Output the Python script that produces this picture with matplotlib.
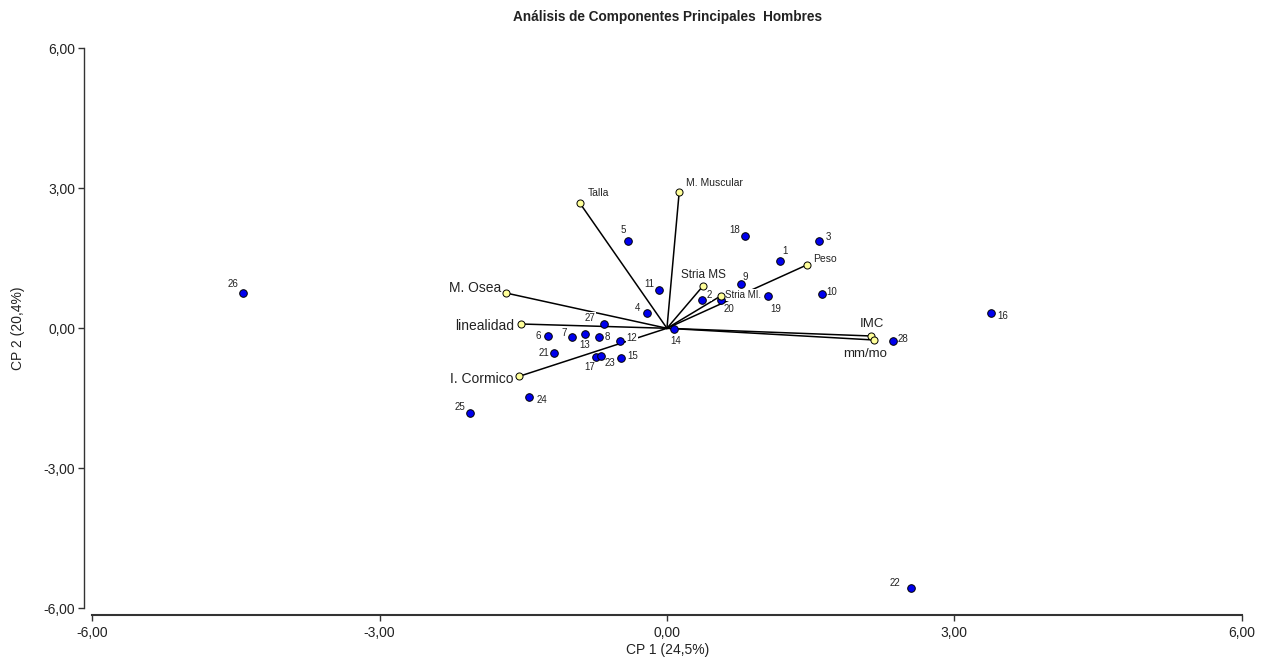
import matplotlib.pyplot as plt
from matplotlib.ticker import FuncFormatter

plt.rcParams['font.family'] = ['Liberation Sans', 'DejaVu Sans']

# casos (puntos azules)
case_ids = [str(i) for i in range(1, 29)]
case_cp1 = [1.177, 0.365, 1.584, -0.209, -0.407, -1.246, -0.992, -0.713, 0.773, 1.615,
            -0.084, -0.491, -0.856, 0.073, -0.477, 3.380, -0.744, 0.814, 1.051, 0.564,
            -1.177, 2.548, -0.686, -1.444, -2.057, -4.427, -0.658, 2.356]
case_cp2 = [1.442, 0.606, 1.877, 0.321, 1.877, -0.165, -0.193, -0.193, 0.943, 0.741,
            0.821, -0.272, -0.116, -0.015, -0.630, 0.321, -0.609, 1.984, 0.692, 0.606,
            -0.529, -5.571, -0.587, -1.466, -1.808, 0.763, 0.092, -0.272]

# variables (puntos amarillos)
var_names = ['Talla', 'M. Muscular', 'Stria MS', 'Stria MI.', 'Peso',
             'M. Osea', 'linealidad', 'I. Cormico', 'IMC', 'mm/mo']
var_cp1 = [-0.908, 0.128, 0.379, 0.561, 1.459, -1.681, -1.527, -1.542, 2.127, 2.161]
var_cp2 = [2.678, 2.921, 0.913, 0.692, 1.356, 0.756, 0.092, -1.029, -0.165, -0.251]

ticks = [-6, -3, 0, 3, 6]

# desplazamiento de etiquetas en pixeles (dx, dy hacia abajo)
case_offsets = {
    '1': (5, -10), '2': (7, -5), '3': (10, -4), '4': (-9, -5), '5': (-5, -11),
    '6': (-9, 0), '7': (-8, -4), '8': (9, 0), '9': (4, -7), '10': (10, -2),
    '11': (-10, -6), '12': (12, -3), '13': (0, 11), '14': (2, 12), '15': (11, -2),
    '16': (12, 3), '17': (-6, 10), '18': (-10, -6), '19': (8, 13), '20': (8, 9),
    '21': (-10, 0), '22': (-16, -5), '23': (9, 7), '24': (13, 3), '25': (-10, -6),
    '26': (-10, -9), '27': (-14, -6), '28': (10, -2),
}
var_style = {
    'Talla': (8, -10, 'left', 7.5),
    'M. Muscular': (7, -9, 'left', 7.5),
    'Stria MS': (0, -11, 'center', 8.5),
    'Stria MI.': (4, -1, 'left', 7),
    'Peso': (6, -6, 'left', 7.5),
    'M. Osea': (-5, -5, 'right', 10),
    'linealidad': (-7, 2, 'right', 10),
    'I. Cormico': (-6, 3, 'right', 10),
    'IMC': (1, -12, 'center', 9.5),
    'mm/mo': (-9, 14, 'center', 9.5),
}

px = 0.72  # puntos por pixel a 100 dpi

fig = plt.figure(figsize=(12.67, 6.64), dpi=100)
ax = fig.add_axes([0.0728, 0.0839, 0.9072, 0.8434])

# vectores desde el origen
for x, y in zip(var_cp1, var_cp2):
    ax.plot([0, x], [0, y], color='black', linewidth=1.1, zorder=2)

ax.scatter(case_cp1, case_cp2, s=30, c='#0000ee', edgecolors='black', linewidths=0.7, zorder=5)
ax.scatter(var_cp1, var_cp2, s=26, c='#ffff99', edgecolors='black', linewidths=0.7, zorder=5)

label_box = dict(facecolor='white', edgecolor='none', pad=0.4)
for name, x, y in zip(case_ids, case_cp1, case_cp2):
    dx, dy = case_offsets[name]
    ax.annotate(name, (x, y), xytext=(dx * px, -dy * px), textcoords='offset points',
                ha='center', va='center', fontsize=7, color='#222222',
                bbox=label_box, zorder=3)

for name, x, y in zip(var_names, var_cp1, var_cp2):
    dx, dy, ha, fs = var_style[name]
    ax.annotate(name, (x, y), xytext=(dx * px, -dy * px), textcoords='offset points',
                ha=ha, va='center', fontsize=fs, color='#222222',
                bbox=label_box, zorder=3)

ax.set_xlim(-6, 6)
ax.set_ylim(-6, 6)
ax.set_xticks(ticks)
ax.set_yticks(ticks)
fmt = FuncFormatter(lambda v, p: ('%.2f' % v).replace('.', ','))
ax.xaxis.set_major_formatter(fmt)
ax.yaxis.set_major_formatter(fmt)
ax.tick_params(axis='both', labelsize=10, labelcolor='#222222', length=4, width=1, color='#333333')
ax.tick_params(axis='y', pad=2.5)
ax.tick_params(axis='x', pad=4)

for side in ['top', 'right']:
    ax.spines[side].set_visible(False)
ax.spines['left'].set_position(('outward', 5.8))
ax.spines['bottom'].set_position(('outward', 4.8))
ax.spines['left'].set_color('#333333')
ax.spines['bottom'].set_color('#333333')
ax.spines['left'].set_linewidth(1.0)
ax.spines['bottom'].set_linewidth(1.5)

fig.text(0.527, 0.975, 'Análisis de Componentes Principales  Hombres', ha='center', va='center',
         fontsize=9.8, fontweight='bold', color='#222222')
fig.text(0.527, 0.021, 'CP 1 (24,5%)', ha='center', va='center', fontsize=10, color='#222222')
fig.text(0.0142, 0.506, 'CP 2 (20,4%)', ha='center', va='center', rotation=90,
         fontsize=10, color='#222222')

plt.savefig('out.png', dpi=100)
